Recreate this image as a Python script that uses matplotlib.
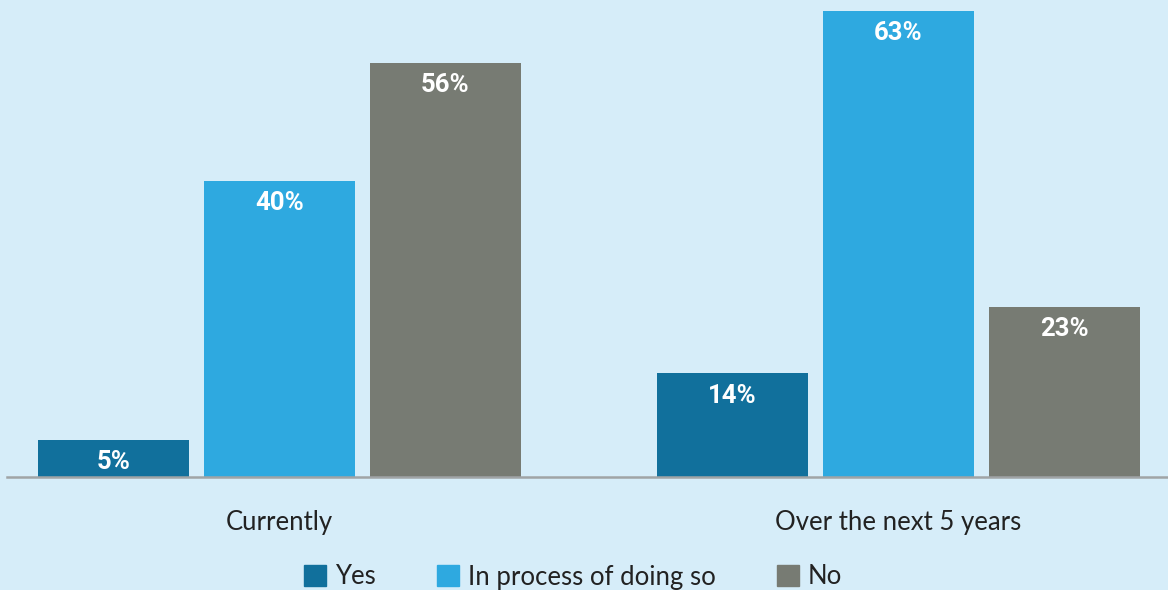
import numpy as np
import matplotlib.pyplot as plt
from matplotlib.patches import Patch

categories = ["Currently", "Over the next 5 years"]
series = ["Yes", "In process of doing so", "No"]
yes = [5, 14]
in_process = [40, 63]
no = [56, 23]

colors = ["#11709c", "#2ea9e0", "#777b73"]
bg = "#d6edf9"

W, H = 1168, 590
fig = plt.figure(figsize=(W / 100, H / 100), dpi=100, facecolor=bg)
# axes: left at 7px, baseline at 477px from top
ax = fig.add_axes([7 / W, (H - 477) / H, 1 - 7 / W, 477 / H])
ax.set_facecolor(bg)

x = np.arange(len(categories))
step = 166 / 619
width = 151 / 619
for i, (vals, name) in enumerate(zip([yes, in_process, no], series)):
    pos = x + (i - 1) * step
    bars = ax.bar(pos, vals, width, color=colors[i], label=name)
    for b, v in zip(bars, vals):
        ax.annotate(f"{v}%", (b.get_x() + b.get_width() / 2, v),
                    xytext=(0, -16), textcoords="offset points",
                    ha="center", va="center", color="white",
                    fontsize=18.5, fontweight="bold",
                    family=["Roboto", "DejaVu Sans"])

ax.set_xlim(-272.5 / 619, 888.5 / 619)
ax.set_ylim(0, 477 / 7.4)
ax.set_xticks(x)
ax.set_xticklabels(categories, fontsize=18.5, color="#222222", family=["Lato", "DejaVu Sans"])
ax.tick_params(axis="x", length=0, pad=24)
ax.set_yticks([])
for s in ["top", "left", "right"]:
    ax.spines[s].set_visible(False)
ax.spines["bottom"].set_color("#a0a4a6")
ax.spines["bottom"].set_linewidth(1.8)

handles = [Patch(color=c, label=s) for c, s in zip(colors, series)]
fig.legend(handles=handles, loc="center", bbox_to_anchor=(573 / W, (H - 577) / H),
           ncol=3, frameon=False, handlelength=0.85, handleheight=0.85,
           handletextpad=0.35, columnspacing=2.4,
           prop={"family": ["Lato", "DejaVu Sans"], "size": 18.5})
for t in fig.legends[0].get_texts():
    t.set_color("#222222")

fig.savefig("out.png", dpi=100, facecolor=bg)
